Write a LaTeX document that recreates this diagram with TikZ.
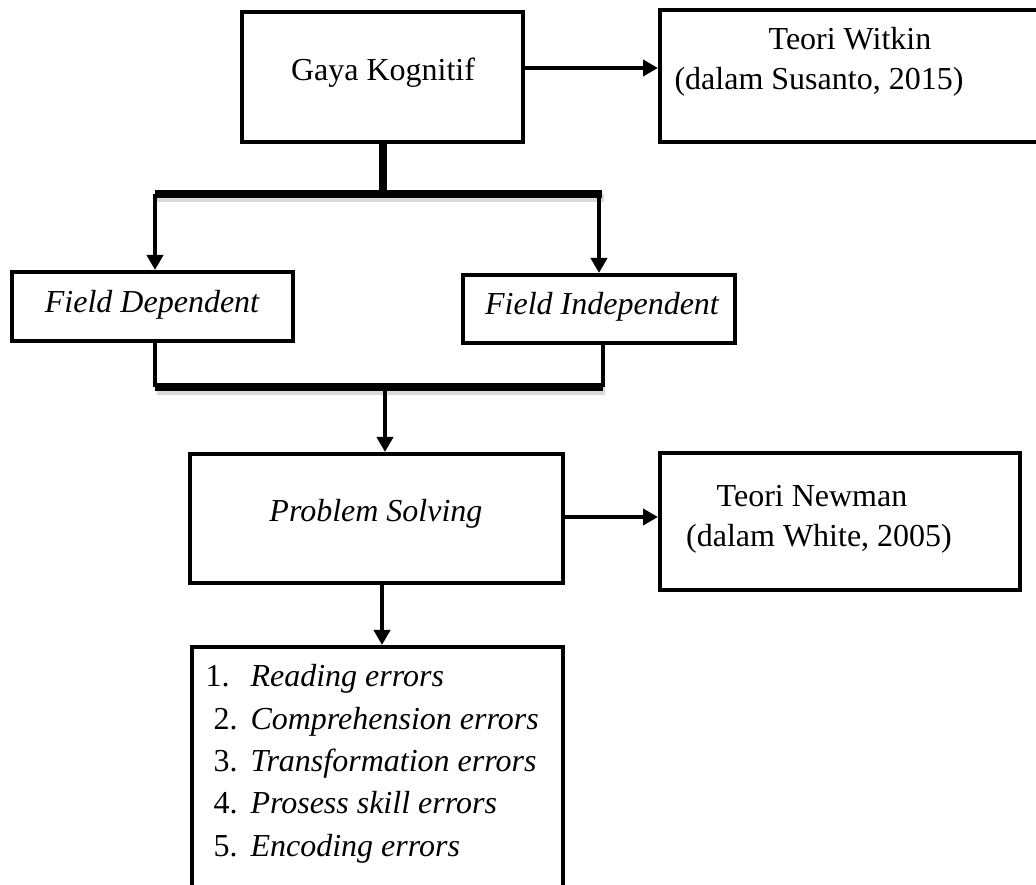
\documentclass[tikz,border=0pt]{standalone}
\usepackage{fontspec}
\setmainfont{Liberation Serif}
\usetikzlibrary{arrows.meta,calc}
\newcommand{\px}{0.4pt}

\begin{document}
\begin{tikzpicture}[x=\px, y=-\px, >={Triangle[length=6pt,width=6.4pt]},
  font=\fontsize{12.8}{16}\selectfont,
  box/.style={draw, line width=1.6pt, inner sep=0pt},
  txt/.style={inner sep=0pt, anchor=base},
  item/.style={inner sep=0pt, anchor=base west},
  line/.style={line width=1.6pt},
  bar/.style={line width=3.2pt},
  barshadow/.style={line width=3.2pt, black!15}]
  \useasboundingbox (0,0) rectangle (1036,885);

  % boxes
  \node[box, minimum width=281*\px, minimum height=130*\px] (kog) at (382.5,77) {};
  \node[box, minimum width=386*\px, minimum height=132*\px] (wit) at (853,76) {};
  \node[box, minimum width=281*\px, minimum height=69*\px] (fd) at (152.5,306.5) {};
  \node[box, minimum width=272*\px, minimum height=68*\px] (fi) at (599,309) {};
  \node[box, minimum width=373*\px, minimum height=129*\px] (ps) at (376.5,518.5) {};
  \node[box, minimum width=360*\px, minimum height=137*\px] (nw) at (840,521.5) {};
  \node[box, minimum width=371*\px, minimum height=273*\px] (lst) at (377.5,783.5) {};

  % texts
  \node[txt] (kogT) at (383,81) {Gaya Kognitif};
  \node[txt] (witA) at (850,50) {Teori Witkin};
  \node[txt] (witB) at (819,90) {(dalam Susanto, 2015)};
  \node[txt] (fdT) at (152,313) {\itshape Field Dependent};
  \node[txt] (fiT) at (602,315) {\itshape Field Independent};
  \node[txt] (psT) at (376,522) {\itshape Problem Solving};
  \node[txt] (nwA) at (812,507) {Teori Newman};
  \node[txt] (nwB) at (819,547) {(dalam White, 2005)};
  \node[item] (err1) at (205,687) {\makebox[18pt][l]{1.}\textit{Reading errors}};
  \node[item] (err2) at (213,730) {\makebox[14.8pt][l]{2.}\textit{Comprehension errors}};
  \node[item] (err3) at (213,772) {\makebox[14.8pt][l]{3.}\textit{Transformation errors}};
  \node[item] (err4) at (213,814) {\makebox[14.8pt][l]{4.}\textit{Prosess skill errors}};
  \node[item] (err5) at (213,857) {\makebox[14.8pt][l]{5.}\textit{Encoding errors}};

  % split and join points
  \coordinate (brM) at (383,194);
  \coordinate (brL) at (155,194);
  \coordinate (brR) at (602,194);
  \coordinate (joinL) at (155,387);
  \coordinate (joinR) at (603,387);
  \coordinate (joinM) at (385,387);

  % connectors
  \draw[line, ->] ([yshift=9*\px]kog.east) -- ([yshift=8*\px]wit.west);
  \draw[barshadow] ([shift={(2,4)}]brL) -- ([shift={(2,4)}]brR);
  \draw[bar] (kog.south -| brM) -- (brM);
  \draw[bar] (brL) -- (brR);
  \draw[line, ->] (brL) -- (brL |- fd.north);
  \draw[line, ->] ([xshift=-3*\px]brR) -- ([xshift=-3*\px]brR |- fi.north);

  \draw[line] (joinL |- fd.south) -- (joinL);
  \draw[line] (joinR |- fi.south) -- (joinR);
  \draw[barshadow] ([shift={(2,4)}]joinL) -- ([shift={(2,4)}]joinR);
  \draw[bar] (joinL) -- (joinR);
  \draw[line, ->] (joinM) -- (joinM |- ps.north);

  \draw[line, ->] ([yshift=1.5*\px]ps.east) -- ([yshift=1.5*\px]ps.east -| nw.west);
  \draw[line, ->] ([xshift=5.5*\px]ps.south) -- ([xshift=5.5*\px]ps.south |- lst.north);
\end{tikzpicture}
\end{document}
